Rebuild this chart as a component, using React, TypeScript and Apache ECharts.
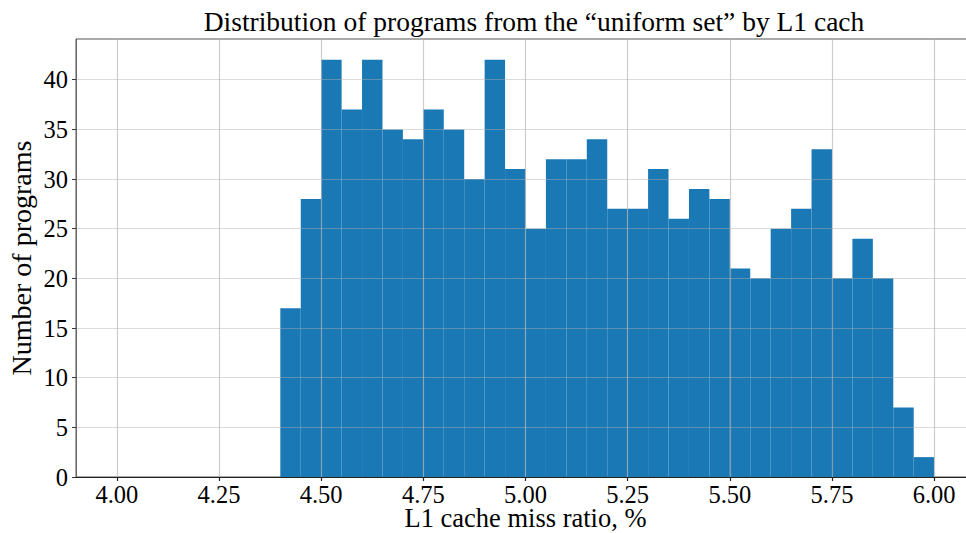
import React, { useEffect, useRef } from "react";
import * as echarts from "echarts";

const binStarts = [4.40, 4.45, 4.50, 4.55, 4.60, 4.65, 4.70, 4.75, 4.80, 4.85, 4.90, 4.95, 5.00, 5.05, 5.10, 5.15, 5.20, 5.25, 5.30, 5.35, 5.40, 5.45, 5.50, 5.55, 5.60, 5.65, 5.70, 5.75, 5.80, 5.85, 5.90, 5.95];
const binEnds = [4.45, 4.50, 4.55, 4.60, 4.65, 4.70, 4.75, 4.80, 4.85, 4.90, 4.95, 5.00, 5.05, 5.10, 5.15, 5.20, 5.25, 5.30, 5.35, 5.40, 5.45, 5.50, 5.55, 5.60, 5.65, 5.70, 5.75, 5.80, 5.85, 5.90, 5.95, 6.00];
const counts = [17, 28, 42, 37, 42, 35, 34, 37, 35, 30, 42, 31, 25, 32, 32, 34, 27, 27, 31, 26, 29, 28, 21, 20, 25, 27, 33, 20, 24, 20, 7, 2];
const xTicks = [4.0, 4.25, 4.5, 4.75, 5.0, 5.25, 5.5, 5.75, 6.0];
const yTicks = [0, 5, 10, 15, 20, 25, 30, 35, 40];

const FONT = "'Liberation Serif', 'DejaVu Serif', serif";

export default function App() {
  const ref = useRef<HTMLDivElement>(null);
  useEffect(() => {
    if (!ref.current) return;
    const chart = echarts.init(ref.current, null, { renderer: "svg" });
    const data = binStarts.map((s, i) => [s, binEnds[i], counts[i]]);
    chart.setOption({
      animation: false,
      backgroundColor: "#ffffff",
      title: {
        text: "Distribution of programs from the \u201cuniform set\u201d by L1 cach",
        left: 529,
        top: 2,
        textAlign: "center",
        textStyle: { fontFamily: FONT, fontSize: 27.5, fontWeight: "normal", color: "#000" },
      },
      grid: {
        left: 76,
        top: 39,
        width: 899,
        height: 438,
        show: true,
        outerBoundsMode: "none",
        containLabel: false,
        borderColor: "#555",
        borderWidth: 1,
        backgroundColor: "transparent",
      },
      xAxis: {
        type: "value",
        min: 3.9,
        max: 6.1,
        z: 3,
        name: "L1 cache miss ratio, %",
        nameLocation: "middle",
        nameGap: 30,
        nameMoveOverlap: false,
        nameTextStyle: { fontFamily: FONT, fontSize: 26.5, lineHeight: 22, color: "#000" },
        axisLine: { show: true, lineStyle: { color: "#222", width: 1.2 } },
        axisTick: { show: true, inside: false, length: 4, customValues: xTicks, lineStyle: { color: "#222", width: 1.2 } },
        axisLabel: {
          customValues: xTicks,
          formatter: (v: number) => v.toFixed(2),
          fontFamily: FONT,
          fontSize: 24.5,
          lineHeight: 22,
          color: "#000",
          margin: 6,
        },
        splitLine: { show: true, lineStyle: { color: "rgba(176,176,176,0.65)", width: 1.2 } },
      },
      yAxis: {
        type: "value",
        min: 0,
        max: 44.1,
        interval: 5,
        z: 3,
        name: "Number of programs",
        nameLocation: "middle",
        nameGap: 41,
        nameMoveOverlap: false,
        nameTextStyle: { fontFamily: FONT, fontSize: 28, color: "#000" },
        axisLine: { show: true, lineStyle: { color: "#666", width: 1 } },
        axisTick: { show: true, inside: false, length: 4, customValues: yTicks, lineStyle: { color: "#333", width: 1 } },
        axisLabel: {
          customValues: yTicks,
          fontFamily: FONT,
          fontSize: 24.5,
          color: "#000",
          margin: 8,
        },
        splitLine: { show: true, lineStyle: { color: "rgba(176,176,176,0.45)", width: 1 } },
      },
      series: [
        {
          type: "custom",
          z: 2,
          data,
          encode: { x: [0, 1], y: 2 },
          renderItem: (params: any, api: any) => {
            const x0 = api.value(0);
            const x1 = api.value(1);
            const y = api.value(2);
            const p0 = api.coord([x0, y]);
            const p1 = api.coord([x1, 0]);
            return {
              type: "rect",
              shape: { x: p0[0], y: p0[1], width: p1[0] - p0[0], height: p1[1] - p0[1] },
              style: { fill: "#1a78b4" },
            };
          },
        },
      ],
    });
    return () => chart.dispose();
  }, []);
  return (
    <div
      ref={ref}
      style={{ position: "fixed", left: 0, top: 0, width: 976, height: 533 }}
    />
  );
}
